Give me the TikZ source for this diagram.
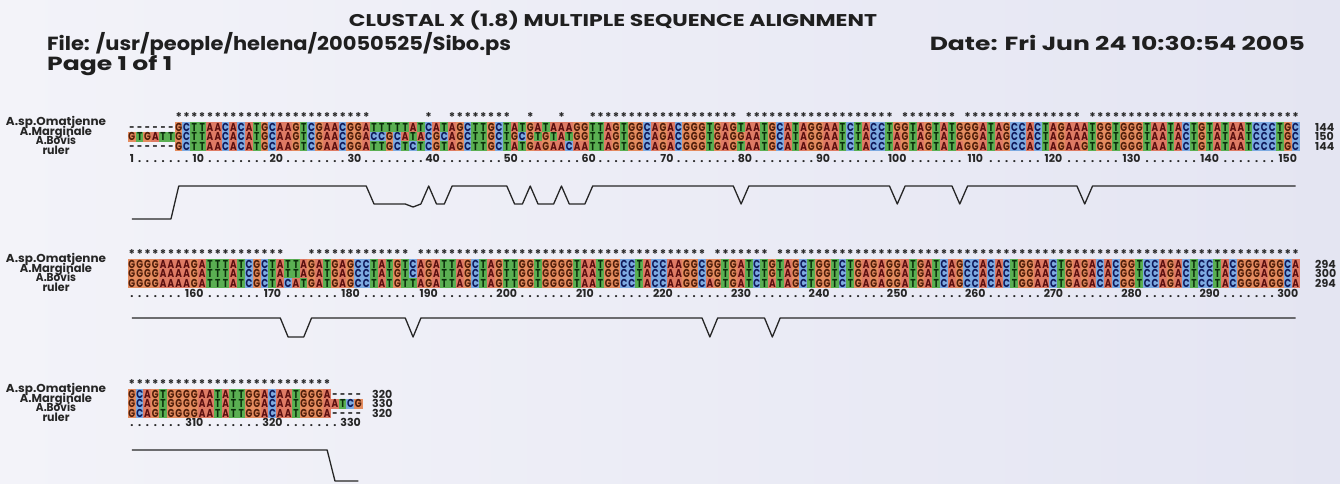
\documentclass[tikz,border=0pt]{standalone}
\usepackage{fontspec}
\setmainfont{Poppins}
\newfontfamily\seqfont{Poppins}[FakeStretch=0.78]
\usepackage{graphicx}
\definecolor{bgA}{RGB}{222,122,100}
\definecolor{bgG}{RGB}{228,140,95}
\definecolor{bgC}{RGB}{125,170,225}
\definecolor{bgT}{RGB}{90,175,82}
\definecolor{fgA}{RGB}{90,15,15}
\definecolor{fgG}{RGB}{80,30,10}
\definecolor{fgC}{RGB}{15,25,90}
\definecolor{fgT}{RGB}{10,45,10}
\definecolor{pageL}{RGB}{243,243,249}
\definecolor{pageR}{RGB}{228,229,242}
\def\XO{128}
\def\CW{7.81}
\newcommand\fitto[2]{\resizebox{#1}{\height}{#2}}
\makeatletter
\newcount\sq@c
\newcount\rulg \newcount\rulm \newcount\ruln
\def\sq@end{\sq@end}
\newcommand\seqrow[3]{\sq@c=0 \def\sq@y{#2}\def\sq@id{#1}\sq@loop#3\sq@end}
\def\sq@loop#1{\ifx#1\sq@end\expandafter\@gobble\else\expandafter\@firstofone\fi{\sq@put#1\sq@loop}}
\def\sq@put#1{\advance\sq@c by 1\relax
  \pgfmathsetmacro\sq@x{\XO+(\the\sq@c-0.5)*\CW}%
  \edef\sq@nm{\sq@id-\the\sq@c}%
  \ifx#1-\def\sq@st{gapres}\else\def\sq@st{res#1}\fi
  \node[\sq@st] (\sq@nm) at (\sq@x,\sq@y) {#1};}
\makeatother
\newcommand\starrow[3]{\foreach \sa/\sb in {#3}{\foreach \c in {\sa,...,\sb}{\node[starch] (#1-\c) at ({\XO+(\c-0.5)*\CW},#2) {*};}}}
\newcommand\rulerrow[4]{\foreach \c in {1,...,#4}{%
  \rulg=\numexpr #3+\c-1\relax
  \rulm=\numexpr(\rulg+4)/10*10\relax
  \ifnum\rulm>99 \ruln=3 \else\ruln=2 \fi
  \ifnum\rulg=1 \node[rulerch] (#1-\c) at ({\XO+(\c-0.5)*\CW},#2) {1};%
  \else\ifnum\rulg=\rulm \node[rulerch] (#1-\c) at ({\XO+(\c-\the\ruln/2)*\CW},#2) {\the\rulg};%
  \else\ifnum\rulg>\numexpr\rulm-\ruln\relax\else\node[rulerch] (#1-\c) at ({\XO+(\c-0.5)*\CW},#2) {.};\fi\fi\fi}}
\newcommand\names[1]{%
  \node[seqname] (#1n1) at (56,125.5) {\fitto{100pt}{A.sp.Omatjenne}};
  \node[seqname] (#1n2) at (56,135) {\fitto{72pt}{A.Marginale}};
  \node[seqname] (#1n3) at (56,144.5) {\fitto{40pt}{A.Bovis}};
  \node[seqname] (#1n4) at (56,154) {\fitto{27pt}{ruler}};}
\tikzset{
  resbase/.style={inner sep=0pt, minimum width=8.2pt, minimum height=10pt, text height=8pt, text depth=0pt, font=\seqfont\bfseries\fontsize{11.5}{11.5}\selectfont},
  resA/.style={resbase, fill=bgA, text=fgA},
  resC/.style={resbase, fill=bgC, text=fgC},
  resG/.style={resbase, fill=bgG, text=fgG},
  resT/.style={resbase, fill=bgT, text=fgT},
  gapres/.style={resbase, text=black!85},
  starch/.style={inner sep=0pt, anchor=base, font=\bfseries\fontsize{12}{12}\selectfont, text=black!85},
  rulerch/.style={inner sep=0pt, anchor=base, font=\bfseries\fontsize{11}{11}\selectfont, text=black!85},
  seqname/.style={inner sep=0pt, anchor=base, font=\bfseries\fontsize{11.5}{11.5}\selectfont, text=black!85},
  seqend/.style={inner sep=0pt, anchor=base west, font=\bfseries\fontsize{11}{11}\selectfont, text=black!85},
  hdr/.style={inner sep=0pt, font=\bfseries\fontsize{19}{19}\selectfont, text=black!88},
  qual/.style={line width=1.3pt, black!85, line join=round},
}
\begin{document}
\begin{tikzpicture}[x=1pt,y=-1pt]
\useasboundingbox (0,0) rectangle (1340,483);
\shade[left color=pageL,right color=pageR] (0,0) rectangle (1340,483);
% header
\node[hdr, font=\bfseries\fontsize{17}{17}\selectfont, anchor=base] (title) at (613,26) {\fitto{528pt}{CLUSTAL X (1.8) MULTIPLE SEQUENCE ALIGNMENT}};
\node[hdr, anchor=base west] (file) at (47,50) {\fitto{464pt}{File: /usr/people/helena/20050525/Sibo.ps}};
\node[hdr, anchor=base east] (date) at (1305,50) {\fitto{375pt}{Date: Fri Jun 24 10:30:54 2005}};
\node[hdr, anchor=base west] (page) at (47,70) {\fitto{125pt}{Page 1 of 1}};
% ---------- block 1
\names{b1}
\starrow{b1s}{121}{7/31,39/39,42/49,52/52,56/56,60/78,80/98,100/106,108/122,124/150}
\seqrow{b1a}{127}{------ GCTTAACACA TGCAAGTCGA ACGGATTTTT ATCATAGCTT GCTATGATAA AGGTTAGTGG CAGACGGGTG AGTAATGCAT AGGAATCTAC CTGGTAGTAT GGGATAGCCA CTAGAAATGG TGGGTAATAC TGTATAATCC CTGC}
\seqrow{b1b}{136.5}{GTGATTGCTT AACACATGCA AGTCGAACGG ACCGCATACG CAGCTTGCTG CGTGTATGGT TAGTGGCAGA CGGGTGAGGA ATGCATAGGA ATCTACCTAG TAGTATGGGA TAGCCACTAG AAATGGTGGG TAATACTGTA TAATCCCTGC}
\seqrow{b1c}{146}{------ GCTTAACACA TGCAAGTCGA ACGGATTGCT CTCGTAGCTT GCTATGAGAA CAATTAGTGG CAGACGGGTG AGTAATGCAT AGGAATCTAC CTAGTAGTAT AGGATAGCCA CTAGAAGTGG TGGGTAATAC TGTATAATCC CTGC}
\rulerrow{b1r}{162}{1}{150}
\node[seqend] (b1e1) at (1315,131) {144};
\node[seqend] (b1e2) at (1315,140.5) {150};
\node[seqend] (b1e3) at (1315,150) {144};
\draw[qual] ({\XO+0.5*\CW},219) \foreach \c/\v in {6/33,7/0,31/0,32/18,36/18,37/21,38/18,39/0,40/18,41/18,42/0,49/0,50/18,51/18,52/0,53/18,55/18,56/0,57/18,59/18,60/0,78/0,79/18,80/0,98/0,99/18,100/0,106/0,107/18,108/0,122/0,123/18,124/0,150/0} {-- ({\XO+(\c-0.5)*\CW},{186+\v})};
% ---------- block 2
\begin{scope}[shift={(0,137)}]
\names{b2}
\starrow{b2s}{121}{1/20,24/36,38/74,76/82,84/150}
\seqrow{b2a}{127}{GGGGAAAAGA TTTATCGCTA TTAGATGAGC CTATGTCAGA TTAGCTAGTT GGTGGGGTAA TGGCCTACCA AGGCGGTGAT CTGTAGCTGG TCTGAGAGGA TGATCAGCCA CACTGGAACT GAGACACGGT CCAGACTCCT ACGGGAGGCA}
\seqrow{b2b}{136.5}{GGGGAAAAGA TTTATCGCTA TTAGATGAGC CTATGTCAGA TTAGCTAGTT GGTGGGGTAA TGGCCTACCA AGGCGGTGAT CTGTAGCTGG TCTGAGAGGA TGATCAGCCA CACTGGAACT GAGACACGGT CCAGACTCCT ACGGGAGGCA}
\seqrow{b2c}{146}{GGGGAAAAGA TTTATCGCTA CATGATGAGC CTATGTTAGA TTAGCTAGTT GGTGGGGTAA TGGCCTACCA AGGCAGTGAT CTATAGCTGG TCTGAGAGGA TGATCAGCCA CACTGGAACT GAGACACGGT CCAGACTCCT ACGGGAGGCA}
\rulerrow{b2r}{160}{151}{150}
\node[seqend] (b2e1) at (1315,131) {294};
\node[seqend] (b2e2) at (1315,140.5) {300};
\node[seqend] (b2e3) at (1315,150) {294};
\end{scope}
\begin{scope}[shift={(0,132)}]
\draw[qual] ({\XO+0.5*\CW},186) \foreach \c/\v in {20/0,21/19,23/19,24/0,36/0,37/19,38/0,74/0,75/19,76/0,82/0,83/19,84/0,150/0} {-- ({\XO+(\c-0.5)*\CW},{186+\v})};
\end{scope}
% ---------- block 3
\begin{scope}[shift={(0,267)}]
\names{b3}
\starrow{b3s}{121}{1/26}
\seqrow{b3a}{127}{GCAGTGGGGA ATATTGGACA ATGGGA----}
\seqrow{b3b}{136.5}{GCAGTGGGGA ATATTGGACA ATGGGAATCG}
\seqrow{b3c}{146}{GCAGTGGGGA ATATTGGACA ATGGGA----}
\rulerrow{b3r}{159}{301}{30}
\node[seqend] (b3e1) at (372,131) {320};
\node[seqend] (b3e2) at (372,140.5) {330};
\node[seqend] (b3e3) at (372,150) {320};
\end{scope}
\begin{scope}[shift={(0,264)}]
\draw[qual] ({\XO+0.5*\CW},186) \foreach \c/\v in {26/0,27/31,30/31} {-- ({\XO+(\c-0.5)*\CW},{186+\v})};
\end{scope}
\end{tikzpicture}
\end{document}
